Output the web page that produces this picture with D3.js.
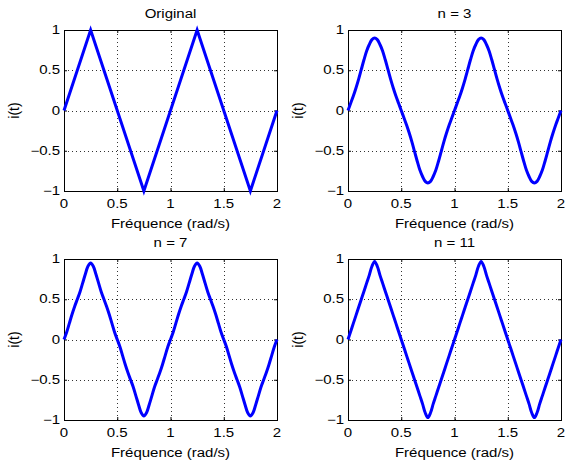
<!DOCTYPE html>
<html>
<head>
<meta charset="utf-8">
<script src="https://cdn.jsdelivr.net/npm/d3@7"></script>
<style>
  body { margin: 0; background: #fff; }
  text { font-family: "Liberation Sans", Arial, Helvetica, sans-serif; font-size: 12px; fill: #000; }
</style>
</head>
<body>
<svg id="fig" width="565" height="460"></svg>
<script>
// sample positions (t) shared by the three Fourier approximations
var tSample = [0,0.025,0.05,0.075,0.1,0.125,0.15,0.175,0.2,0.225,0.25,0.275,0.3,0.325,0.35,0.375,0.4,0.425,0.45,0.475,0.5,
  0.525,0.55,0.575,0.6,0.625,0.65,0.675,0.7,0.725,0.75,0.775,0.8,0.825,0.85,0.875,0.9,0.925,0.95,0.975,1,
  1.025,1.05,1.075,1.1,1.125,1.15,1.175,1.2,1.225,1.25,1.275,1.3,1.325,1.35,1.375,1.4,1.425,1.45,1.475,1.5,
  1.525,1.55,1.575,1.6,1.625,1.65,1.675,1.7,1.725,1.75,1.775,1.8,1.825,1.85,1.875,1.9,1.925,1.95,1.975,2];

var origT = [0, 0.25, 0.75, 1.25, 1.75, 2];
var origI = [0, 1, -1, 1, -1, 0];

var n3 = [0,0.09,0.18,0.28,0.39,0.51,0.63,0.74,0.82,0.88,0.90,0.88,0.82,0.74,0.63,0.51,0.39,0.28,0.18,0.09,0,
  -0.09,-0.18,-0.28,-0.39,-0.51,-0.63,-0.74,-0.82,-0.88,-0.90,-0.88,-0.82,-0.74,-0.63,-0.51,-0.39,-0.28,-0.18,-0.09,0,
  0.09,0.18,0.28,0.39,0.51,0.63,0.74,0.82,0.88,0.90,0.88,0.82,0.74,0.63,0.51,0.39,0.28,0.18,0.09,0,
  -0.09,-0.18,-0.28,-0.39,-0.51,-0.63,-0.74,-0.82,-0.88,-0.90,-0.88,-0.82,-0.74,-0.63,-0.51,-0.39,-0.28,-0.18,-0.09,0];

var n7 = [0,0.09,0.20,0.31,0.41,0.50,0.59,0.70,0.81,0.91,0.95,0.91,0.81,0.70,0.59,0.50,0.41,0.31,0.20,0.09,0,
  -0.09,-0.20,-0.31,-0.41,-0.50,-0.59,-0.70,-0.81,-0.91,-0.95,-0.91,-0.81,-0.70,-0.59,-0.50,-0.41,-0.31,-0.20,-0.09,0,
  0.09,0.20,0.31,0.41,0.50,0.59,0.70,0.81,0.91,0.95,0.91,0.81,0.70,0.59,0.50,0.41,0.31,0.20,0.09,0,
  -0.09,-0.20,-0.31,-0.41,-0.50,-0.59,-0.70,-0.81,-0.91,-0.95,-0.91,-0.81,-0.70,-0.59,-0.50,-0.41,-0.31,-0.20,-0.09,0];

var n11 = [0,0.10,0.20,0.30,0.40,0.50,0.60,0.70,0.80,0.91,0.97,0.91,0.80,0.70,0.60,0.50,0.40,0.30,0.20,0.10,0,
  -0.10,-0.20,-0.30,-0.40,-0.50,-0.60,-0.70,-0.80,-0.91,-0.97,-0.91,-0.80,-0.70,-0.60,-0.50,-0.40,-0.30,-0.20,-0.10,0,
  0.10,0.20,0.30,0.40,0.50,0.60,0.70,0.80,0.91,0.97,0.91,0.80,0.70,0.60,0.50,0.40,0.30,0.20,0.10,0,
  -0.10,-0.20,-0.30,-0.40,-0.50,-0.60,-0.70,-0.80,-0.91,-0.97,-0.91,-0.80,-0.70,-0.60,-0.50,-0.40,-0.30,-0.20,-0.10,0];

var xTicks = [0, 0.5, 1, 1.5, 2];
var yTicks = [-1, -0.5, 0, 0.5, 1];
var xLabel = "Fréquence (rad/s)";
var yLabel = "i(t)";

var panels = [
  {title: "Original", t: origT, v: origI, curve: d3.curveLinear, left: 64, top: 30},
  {title: "n = 3", t: tSample, v: n3, curve: d3.curveCatmullRom, left: 348, top: 30},
  {title: "n = 7", t: tSample, v: n7, curve: d3.curveCatmullRom, left: 64, top: 259},
  {title: "n = 11", t: tSample, v: n11, curve: d3.curveCatmullRom, left: 348, top: 259}
];

var pw = 213, ph = 161, sx = 1.25;
var svg = d3.select("#fig");

// text in the picture is a bit wider than normal, stretch it
function label(g, str, x, y, anchor, rot, k) {
  var tr = "translate(" + x + "," + y + ") scale(" + (k || sx) + ",1)" + (rot ? " rotate(" + rot + ")" : "");
  return g.append("text").attr("transform", tr).attr("text-anchor", anchor).text(str);
}

var fmt = function(d) { return d3.format("")(d); };

panels.forEach(function(p) {
  var x = d3.scaleLinear().domain([0, 2]).range([0, pw]);
  var y = d3.scaleLinear().domain([-1, 1]).range([ph, 0]);
  var g = svg.append("g").attr("transform", "translate(" + p.left + "," + p.top + ")");

  // dotted grid
  g.selectAll(".gx").data(xTicks.slice(1, -1)).enter().append("line")
    .attr("x1", function(d) { return Math.round(x(d)) + 0.5; })
    .attr("x2", function(d) { return Math.round(x(d)) + 0.5; })
    .attr("y1", 0).attr("y2", ph)
    .attr("stroke", "#333").attr("stroke-dasharray", "1,3");
  g.selectAll(".gy").data(yTicks.slice(1, -1)).enter().append("line")
    .attr("y1", function(d) { return Math.round(y(d)) + 0.5; })
    .attr("y2", function(d) { return Math.round(y(d)) + 0.5; })
    .attr("x1", 0).attr("x2", pw)
    .attr("stroke", "#333").attr("stroke-dasharray", "1,3");

  // inward ticks on all four sides
  var ax = [
    d3.axisBottom(x).tickValues(xTicks).tickSize(-3).tickFormat(""),
    d3.axisTop(x).tickValues(xTicks).tickSize(-3).tickFormat(""),
    d3.axisLeft(y).tickValues(yTicks).tickSize(-3).tickFormat(""),
    d3.axisRight(y).tickValues(yTicks).tickSize(-3).tickFormat("")
  ];
  var pos = ["translate(0," + ph + ")", "translate(0,0)", "translate(0,0)", "translate(" + pw + ",0)"];
  ax.forEach(function(a, i) {
    var s = g.append("g").attr("transform", pos[i]).call(a);
    s.select(".domain").remove();
    s.selectAll("line").attr("stroke", "#000");
  });

  // box
  g.append("rect").attr("x", 0.5).attr("y", 0.5).attr("width", pw).attr("height", ph)
    .attr("fill", "none").attr("stroke", "#000");

  // the signal
  var line = d3.line()
    .x(function(d, i) { return x(p.t[i]); })
    .y(function(d) { return y(d); })
    .curve(p.curve);
  g.append("path").datum(p.v).attr("d", line)
    .attr("fill", "none").attr("stroke", "#0000ff").attr("stroke-width", 3)
    .attr("stroke-linejoin", "miter");

  // tick labels
  xTicks.forEach(function(d) { label(g, fmt(d), x(d), ph + 17, "middle"); });
  yTicks.forEach(function(d) { label(g, fmt(d), -4, y(d) + 4, "end"); });

  // titles and axis labels
  label(g, p.title, pw / 2, -12, "middle");
  label(g, xLabel, pw / 2, ph + 37, "middle");
  label(g, yLabel, -45, ph / 2, "middle", -90, 1.05).style("font-size", "14px");
});
</script>
</body>
</html>
